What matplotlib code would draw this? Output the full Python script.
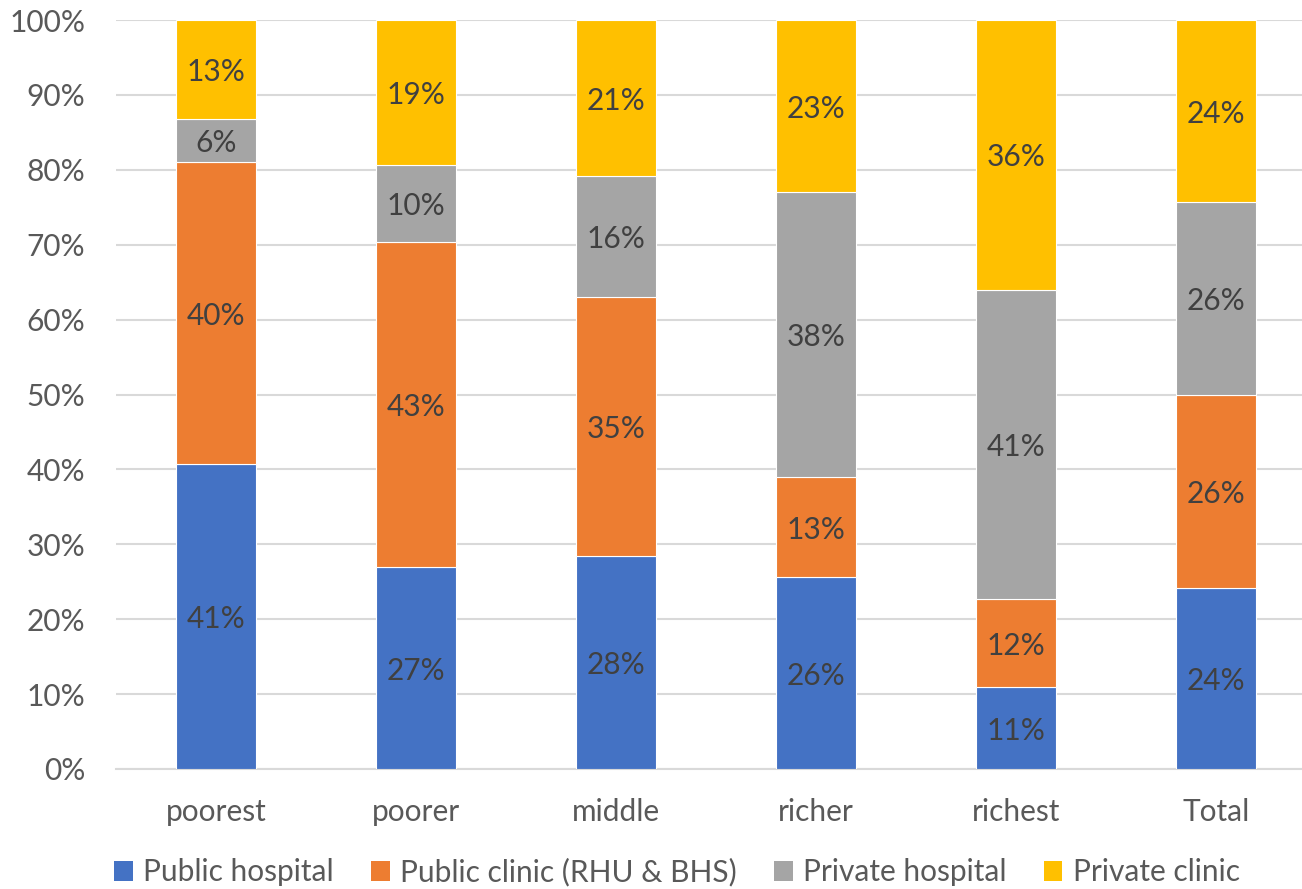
import matplotlib
matplotlib.use("Agg")
import numpy as np
import matplotlib.pyplot as plt
from matplotlib.patches import Patch

groups = ["poorest", "poorer", "middle", "richer", "richest", "Total"]

public_hospital = [40.7, 27.0, 28.4, 25.6, 10.9, 24.2]
public_clinic = [40.3, 43.4, 34.6, 13.4, 11.8, 25.7]
private_hospital = [5.8, 10.3, 16.2, 38.0, 41.3, 25.8]
private_clinic = [13.2, 19.3, 20.8, 23.0, 36.0, 24.3]

series_names = ["Public hospital", "Public clinic (RHU & BHS)",
                "Private hospital", "Private clinic"]
colors = ["#4472C4", "#ED7D31", "#A5A5A5", "#FFC000"]

plt.rcParams["font.family"] = ["Lato", "DejaVu Sans"]

fig = plt.figure(figsize=(13.02, 8.89), dpi=100)
ax = fig.add_axes([116 / 1302, 120 / 889, 1200 / 1302, 749 / 889])

x = np.arange(len(groups))
bottom = np.zeros(len(groups))
all_series = [public_hospital, public_clinic, private_hospital, private_clinic]

for values, name, color in zip(all_series, series_names, colors):
    values = np.array(values)
    ax.bar(x, values, width=0.4, bottom=bottom, color=color,
           edgecolor="white", linewidth=0.8, label=name, zorder=3)
    for xi, b, v in zip(x, bottom, values):
        ax.text(xi, b + v / 2 - 0.35, f"{v:.0f}%", ha="center", va="center",
                fontsize=21.5, color="#404040", zorder=4)
    bottom += values

ax.set_xlim(-0.5, 5.5)
ax.set_ylim(0, 100)
ax.set_yticks(np.arange(0, 101, 10))
ax.set_yticklabels([f"{t}%" for t in range(0, 101, 10)])
ax.set_xticks(x)
ax.set_xticklabels(groups)
ax.tick_params(axis="both", length=0, labelsize=21.5, labelcolor="#595959")
ax.tick_params(axis="x", pad=21)
ax.tick_params(axis="y", pad=22)
ax.grid(axis="y", color="#D9D9D9", linewidth=1.5, zorder=0)
for side in ["top", "right", "left"]:
    ax.spines[side].set_visible(False)
ax.spines["bottom"].set_color("#D9D9D9")
ax.spines["bottom"].set_linewidth(1.5)

handles = [Patch(facecolor=c) for c in colors]
fig.legend(handles, series_names, loc="center", bbox_to_anchor=(0.52, 0.019),
           ncol=4, frameon=False, fontsize=21.5, labelcolor="#595959",
           handlelength=0.62, handleheight=0.62, handletextpad=0.35,
           columnspacing=1.25)

fig.savefig("out.png", dpi=100)
